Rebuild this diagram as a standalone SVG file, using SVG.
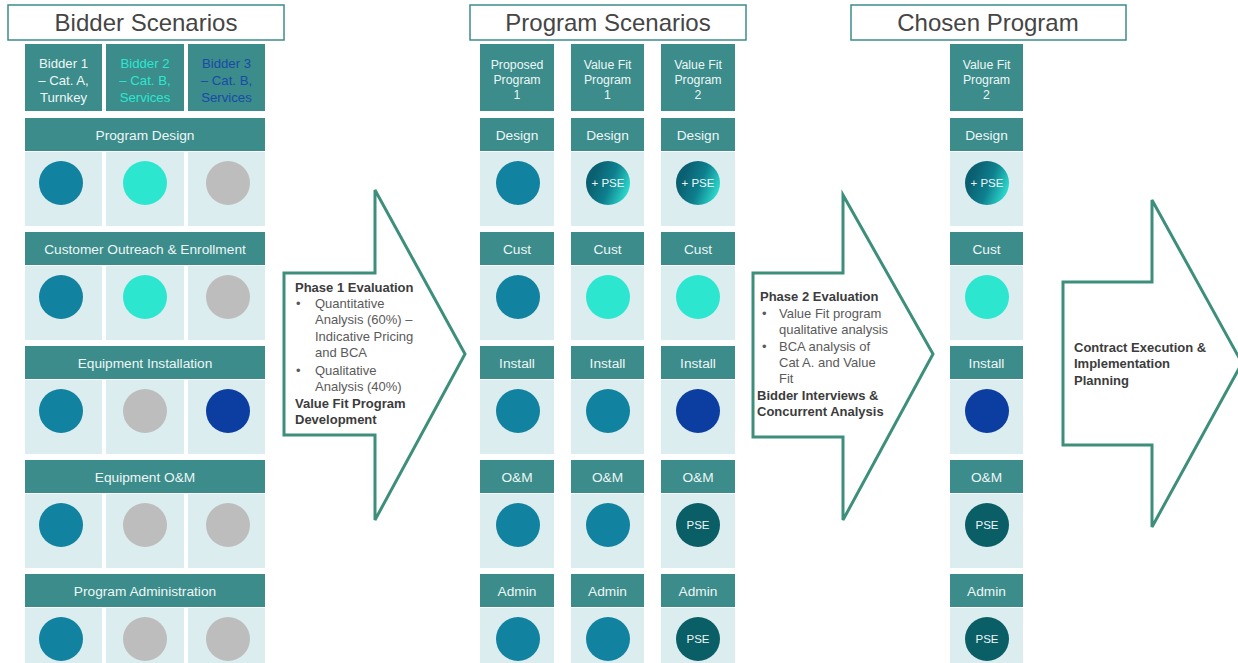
<svg xmlns="http://www.w3.org/2000/svg" width="1238" height="663" viewBox="0 0 1238 663">
<defs>
<style>
.title{fill:#fff;stroke:#3b8c8a;stroke-width:1.5}
.ttl{font-family:"Liberation Sans",Arial,sans-serif;font-size:24px;fill:#454545;text-anchor:middle}
.hdr{fill:#3b8c8a}
.cell{fill:#dcedf0}
.ht{font-family:"Liberation Sans",Arial,sans-serif;font-size:13.2px;fill:#eef7f7;text-anchor:middle}
.hs{font-family:"Liberation Sans",Arial,sans-serif;font-size:12.3px;fill:#eef7f7;text-anchor:middle}
.bt{font-family:"Liberation Sans",Arial,sans-serif;font-size:13.7px;fill:#eef7f7;text-anchor:middle}
.pt{font-family:"Liberation Sans",Arial,sans-serif;font-size:11.5px;fill:#eef7f7;text-anchor:middle}
.c1{fill:#11829f}
.c2{fill:#2de6d0}
.c3{fill:#bdbdbd}
.c4{fill:#0b3ea0}
.c5{fill:#0a5f66}
.cg{fill:url(#pse)}
.arr{fill:#fff;stroke:#3d8f7c;stroke-width:3}
.ab{font-family:"Liberation Sans",Arial,sans-serif;font-size:13px;font-weight:bold;fill:#3c3c3c}
.an{font-family:"Liberation Sans",Arial,sans-serif;font-size:13px;fill:#5a5a5a}
</style>
<linearGradient id="pse" x1="0" y1="0.3" x2="1" y2="0.7">
<stop offset="0.15" stop-color="#0a5f70"/>
<stop offset="0.55" stop-color="#0e7f8e"/>
<stop offset="1" stop-color="#2fe3d2"/>
</linearGradient>
</defs>
<rect width="1238" height="663" fill="#fff"/>

<g id="bidder-scenarios">
<rect class="title" x="8" y="5" width="276" height="35"/>
<text class="ttl" x="146" y="31">Bidder Scenarios</text>
</g>
<g id="program-scenarios">
<rect class="title" x="470" y="5" width="276" height="35"/>
<text class="ttl" x="608" y="31">Program Scenarios</text>
</g>
<g id="chosen-program">
<rect class="title" x="851" y="5" width="275" height="35"/>
<text class="ttl" x="988" y="31">Chosen Program</text>
</g>

<g id="bidder-1">
<rect class="hdr" x="25" y="44" width="77" height="67"/>
<text class="ht" x="63.5" y="67.5">Bidder 1</text>
<text class="ht" x="63.5" y="84.5">– Cat. A,</text>
<text class="ht" x="63.5" y="101.5">Turnkey</text>
</g>
<g id="bidder-2">
<rect class="hdr" x="106" y="44" width="78" height="67"/>
<text class="ht" x="145" y="67.5" style="fill:#2de6d0">Bidder 2</text>
<text class="ht" x="145" y="84.5" style="fill:#2de6d0">– Cat. B,</text>
<text class="ht" x="145" y="101.5" style="fill:#2de6d0">Services</text>
</g>
<g id="bidder-3">
<rect class="hdr" x="188" y="44" width="77" height="67"/>
<text class="ht" x="226.5" y="67.5" style="fill:#1a4aa8">Bidder 3</text>
<text class="ht" x="226.5" y="84.5" style="fill:#1a4aa8">– Cat. B,</text>
<text class="ht" x="226.5" y="101.5" style="fill:#1a4aa8">Services</text>
</g>

<g id="bidder-design">
<rect class="hdr" x="25" y="118" width="240" height="33"/>
<text class="bt" x="145" y="139.5">Program Design</text>
<rect class="cell" x="25" y="152" width="77" height="74"/>
<rect class="cell" x="106" y="152" width="78" height="74"/>
<rect class="cell" x="188" y="152" width="77" height="74"/>
<circle class="c1" cx="61" cy="183" r="22"/>
<circle class="c2" cx="145" cy="183" r="22"/>
<circle class="c3" cx="228" cy="183" r="22"/>
</g>
<g id="bidder-cust">
<rect class="hdr" x="25" y="232" width="240" height="33"/>
<text class="bt" x="145" y="253.5">Customer Outreach &amp; Enrollment</text>
<rect class="cell" x="25" y="266" width="77" height="74"/>
<rect class="cell" x="106" y="266" width="78" height="74"/>
<rect class="cell" x="188" y="266" width="77" height="74"/>
<circle class="c1" cx="61" cy="297" r="22"/>
<circle class="c2" cx="145" cy="297" r="22"/>
<circle class="c3" cx="228" cy="297" r="22"/>
</g>
<g id="bidder-install">
<rect class="hdr" x="25" y="346" width="240" height="33"/>
<text class="bt" x="145" y="367.5">Equipment Installation</text>
<rect class="cell" x="25" y="380" width="77" height="74"/>
<rect class="cell" x="106" y="380" width="78" height="74"/>
<rect class="cell" x="188" y="380" width="77" height="74"/>
<circle class="c1" cx="61" cy="411" r="22"/>
<circle class="c3" cx="145" cy="411" r="22"/>
<circle class="c4" cx="228" cy="411" r="22"/>
</g>
<g id="bidder-om">
<rect class="hdr" x="25" y="460" width="240" height="33"/>
<text class="bt" x="145" y="481.5">Equipment O&amp;M</text>
<rect class="cell" x="25" y="494" width="77" height="74"/>
<rect class="cell" x="106" y="494" width="78" height="74"/>
<rect class="cell" x="188" y="494" width="77" height="74"/>
<circle class="c1" cx="61" cy="525" r="22"/>
<circle class="c3" cx="145" cy="525" r="22"/>
<circle class="c3" cx="228" cy="525" r="22"/>
</g>
<g id="bidder-admin">
<rect class="hdr" x="25" y="574" width="240" height="33"/>
<text class="bt" x="145" y="595.5">Program Administration</text>
<rect class="cell" x="25" y="608" width="77" height="74"/>
<rect class="cell" x="106" y="608" width="78" height="74"/>
<rect class="cell" x="188" y="608" width="77" height="74"/>
<circle class="c1" cx="61" cy="639" r="22"/>
<circle class="c3" cx="145" cy="639" r="22"/>
<circle class="c3" cx="228" cy="639" r="22"/>
</g>

<g id="phase1-arrow">
<polygon class="arr" points="284,273 375,273 375,190 465,354 375,520 375,435 284,435"/>
<text class="ab" x="295" y="292">Phase 1 Evaluation</text>
<text class="an" x="296" y="308">•</text>
<text class="an" x="315" y="308">Quantitative</text>
<text class="an" x="315" y="324">Analysis (60%) –</text>
<text class="an" x="315" y="341">Indicative Pricing</text>
<text class="an" x="315" y="357">and BCA</text>
<text class="an" x="296" y="375">•</text>
<text class="an" x="315" y="375">Qualitative</text>
<text class="an" x="315" y="391">Analysis (40%)</text>
<text class="ab" x="295" y="408">Value Fit Program</text>
<text class="ab" x="295" y="424">Development</text>
</g>

<g id="proposed-program-1">
<rect class="hdr" x="480" y="44" width="74" height="67"/>
<text class="hs" x="517" y="69">Proposed</text>
<text class="hs" x="517" y="84">Program</text>
<text class="hs" x="517" y="99">1</text>
<rect class="hdr" x="480" y="118" width="74" height="33"/>
<text class="bt" x="517" y="139.5">Design</text>
<rect class="cell" x="480" y="152" width="74" height="74"/>
<circle class="c1" cx="518" cy="183" r="22"/>
<rect class="hdr" x="480" y="232" width="74" height="33"/>
<text class="bt" x="517" y="253.5">Cust</text>
<rect class="cell" x="480" y="266" width="74" height="74"/>
<circle class="c1" cx="518" cy="297" r="22"/>
<rect class="hdr" x="480" y="346" width="74" height="33"/>
<text class="bt" x="517" y="367.5">Install</text>
<rect class="cell" x="480" y="380" width="74" height="74"/>
<circle class="c1" cx="518" cy="411" r="22"/>
<rect class="hdr" x="480" y="460" width="74" height="33"/>
<text class="bt" x="517" y="481.5">O&amp;M</text>
<rect class="cell" x="480" y="494" width="74" height="74"/>
<circle class="c1" cx="518" cy="525" r="22"/>
<rect class="hdr" x="480" y="574" width="74" height="33"/>
<text class="bt" x="517" y="595.5">Admin</text>
<rect class="cell" x="480" y="608" width="74" height="74"/>
<circle class="c1" cx="518" cy="639" r="22"/>
</g>

<g id="value-fit-program-1">
<rect class="hdr" x="571" y="44" width="73" height="67"/>
<text class="hs" x="607.5" y="69">Value Fit</text>
<text class="hs" x="607.5" y="84">Program</text>
<text class="hs" x="607.5" y="99">1</text>
<rect class="hdr" x="571" y="118" width="73" height="33"/>
<text class="bt" x="607.5" y="139.5">Design</text>
<rect class="cell" x="571" y="152" width="73" height="74"/>
<circle class="cg" cx="608" cy="183" r="22"/>
<text class="pt" x="608" y="187">+ PSE</text>
<rect class="hdr" x="571" y="232" width="73" height="33"/>
<text class="bt" x="607.5" y="253.5">Cust</text>
<rect class="cell" x="571" y="266" width="73" height="74"/>
<circle class="c2" cx="608" cy="297" r="22"/>
<rect class="hdr" x="571" y="346" width="73" height="33"/>
<text class="bt" x="607.5" y="367.5">Install</text>
<rect class="cell" x="571" y="380" width="73" height="74"/>
<circle class="c1" cx="608" cy="411" r="22"/>
<rect class="hdr" x="571" y="460" width="73" height="33"/>
<text class="bt" x="607.5" y="481.5">O&amp;M</text>
<rect class="cell" x="571" y="494" width="73" height="74"/>
<circle class="c1" cx="608" cy="525" r="22"/>
<rect class="hdr" x="571" y="574" width="73" height="33"/>
<text class="bt" x="607.5" y="595.5">Admin</text>
<rect class="cell" x="571" y="608" width="73" height="74"/>
<circle class="c1" cx="608" cy="639" r="22"/>
</g>

<g id="value-fit-program-2">
<rect class="hdr" x="661" y="44" width="74" height="67"/>
<text class="hs" x="698" y="69">Value Fit</text>
<text class="hs" x="698" y="84">Program</text>
<text class="hs" x="698" y="99">2</text>
<rect class="hdr" x="661" y="118" width="74" height="33"/>
<text class="bt" x="698" y="139.5">Design</text>
<rect class="cell" x="661" y="152" width="74" height="74"/>
<circle class="cg" cx="698" cy="183" r="22"/>
<text class="pt" x="698" y="187">+ PSE</text>
<rect class="hdr" x="661" y="232" width="74" height="33"/>
<text class="bt" x="698" y="253.5">Cust</text>
<rect class="cell" x="661" y="266" width="74" height="74"/>
<circle class="c2" cx="698" cy="297" r="22"/>
<rect class="hdr" x="661" y="346" width="74" height="33"/>
<text class="bt" x="698" y="367.5">Install</text>
<rect class="cell" x="661" y="380" width="74" height="74"/>
<circle class="c4" cx="698" cy="411" r="22"/>
<rect class="hdr" x="661" y="460" width="74" height="33"/>
<text class="bt" x="698" y="481.5">O&amp;M</text>
<rect class="cell" x="661" y="494" width="74" height="74"/>
<circle class="c5" cx="698" cy="525" r="22"/>
<text class="pt" x="698" y="529">PSE</text>
<rect class="hdr" x="661" y="574" width="74" height="33"/>
<text class="bt" x="698" y="595.5">Admin</text>
<rect class="cell" x="661" y="608" width="74" height="74"/>
<circle class="c5" cx="698" cy="639" r="22"/>
<text class="pt" x="698" y="643">PSE</text>
</g>

<g id="phase2-arrow">
<polygon class="arr" points="753,273 843,273 843,195 933,354 843,520 843,437 753,437"/>
<text class="ab" x="760" y="301">Phase 2 Evaluation</text>
<text class="an" x="762" y="318">•</text>
<text class="an" x="779" y="318">Value Fit program</text>
<text class="an" x="779" y="334">qualitative analysis</text>
<text class="an" x="762" y="351">•</text>
<text class="an" x="779" y="351">BCA analysis of</text>
<text class="an" x="779" y="367">Cat A. and Value</text>
<text class="an" x="779" y="383">Fit</text>
<text class="ab" x="757" y="400">Bidder Interviews &amp;</text>
<text class="ab" x="757" y="416">Concurrent Analysis</text>
</g>

<g id="chosen-value-fit-program-2">
<rect class="hdr" x="950" y="44" width="73" height="67"/>
<text class="hs" x="986.5" y="69">Value Fit</text>
<text class="hs" x="986.5" y="84">Program</text>
<text class="hs" x="986.5" y="99">2</text>
<rect class="hdr" x="950" y="118" width="73" height="33"/>
<text class="bt" x="986.5" y="139.5">Design</text>
<rect class="cell" x="950" y="152" width="73" height="74"/>
<circle class="cg" cx="987" cy="183" r="22"/>
<text class="pt" x="987" y="187">+ PSE</text>
<rect class="hdr" x="950" y="232" width="73" height="33"/>
<text class="bt" x="986.5" y="253.5">Cust</text>
<rect class="cell" x="950" y="266" width="73" height="74"/>
<circle class="c2" cx="987" cy="297" r="22"/>
<rect class="hdr" x="950" y="346" width="73" height="33"/>
<text class="bt" x="986.5" y="367.5">Install</text>
<rect class="cell" x="950" y="380" width="73" height="74"/>
<circle class="c4" cx="987" cy="411" r="22"/>
<rect class="hdr" x="950" y="460" width="73" height="33"/>
<text class="bt" x="986.5" y="481.5">O&amp;M</text>
<rect class="cell" x="950" y="494" width="73" height="74"/>
<circle class="c5" cx="987" cy="525" r="22"/>
<text class="pt" x="987" y="529">PSE</text>
<rect class="hdr" x="950" y="574" width="73" height="33"/>
<text class="bt" x="986.5" y="595.5">Admin</text>
<rect class="cell" x="950" y="608" width="73" height="74"/>
<circle class="c5" cx="987" cy="639" r="22"/>
<text class="pt" x="987" y="643">PSE</text>
</g>

<g id="contract-arrow">
<polygon class="arr" points="1063,282 1152,282 1152,200 1242,363 1152,527 1152,445 1063,445"/>
<text class="ab" x="1074" y="352">Contract Execution &amp;</text>
<text class="ab" x="1074" y="368">Implementation</text>
<text class="ab" x="1074" y="385">Planning</text>
</g>

<g id="connectors"/>
</svg>
